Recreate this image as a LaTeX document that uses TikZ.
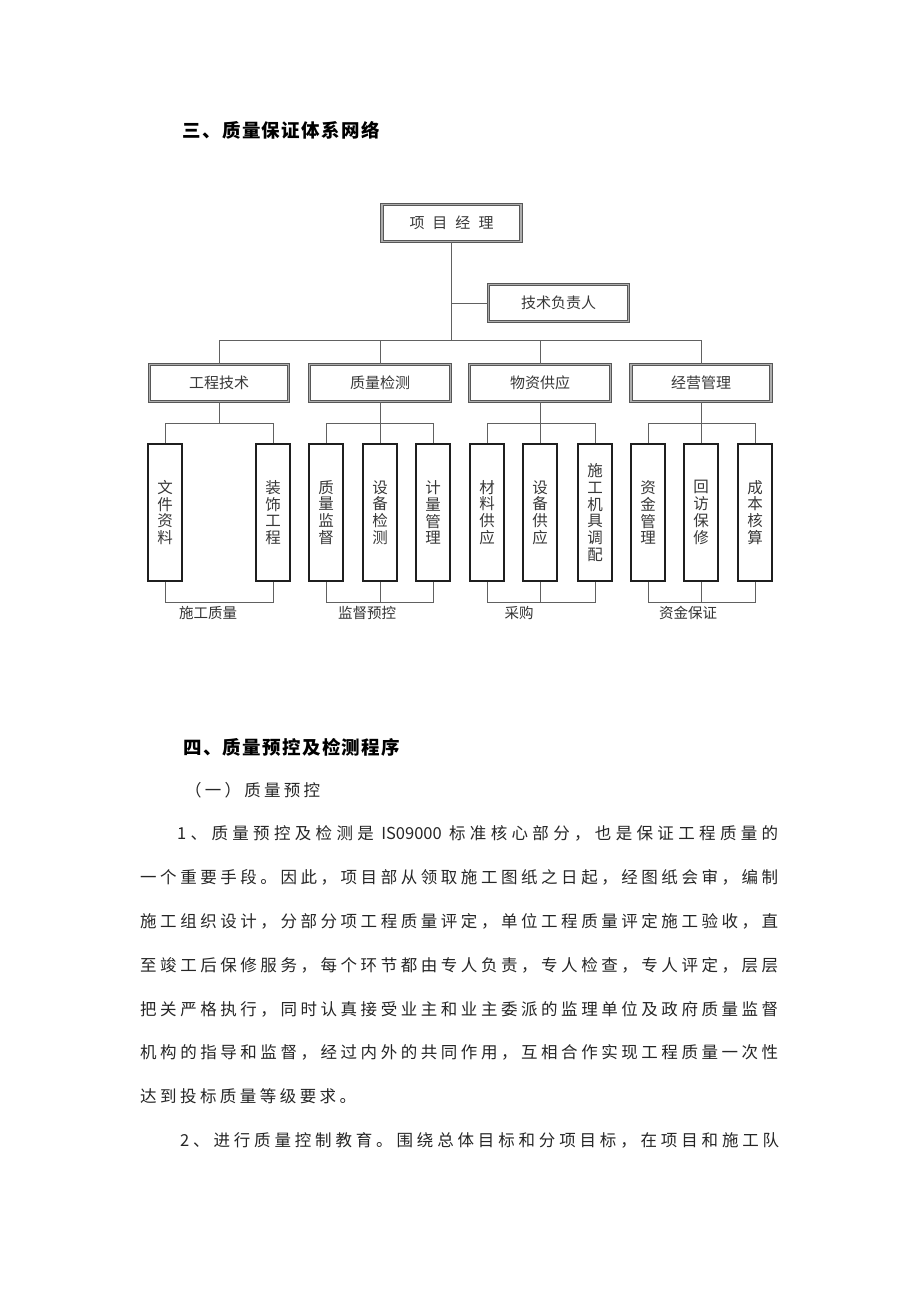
\documentclass[tikz,border=0pt]{standalone}
\usepackage{fontspec}
\setmainfont{Noto Sans CJK SC}
\def\Xspread#1#2{\hbox to #1{\Xspr#2\relax}}
\def\Xspr#1{#1\futurelet\Xnext\Xsprtest}
\def\Xsprtest{\ifx\Xnext\relax\expandafter\Xsprend\else\expandafter\Xsprgo\fi}
\def\Xsprgo{\hskip 0pt plus 1fil\Xspr}
\def\Xsprend\relax{}
\tikzset{
  bigbox/.style={draw=black!66, line width=1pt, double=black!32, double distance=1.3pt,
    fill=white, minimum width=139pt, minimum height=37pt, inner sep=0pt,
    text=black!78, font=\fontsize{15}{15}\selectfont},
  childbox/.style={draw=black!88, line width=2pt, fill=white, minimum width=34pt,
    minimum height=137pt, inner sep=0pt, text=black!78, align=center,
    font=\fontsize{15.5}{16.8}\selectfont},
  conn/.style={draw=black!62, line width=0.9pt},
  lbl/.style={inner sep=0pt, text=black!80, font=\fontsize{14.5}{14.5}\selectfont},
  para/.style={inner sep=0pt, anchor=west, text=black!85, font=\fontsize{16.5}{16.5}\selectfont},
  head/.style={inner sep=0pt, anchor=west, text=black, font=\fontsize{18.5}{18.5}\selectfont\bfseries}
}
\begin{document}
\begin{tikzpicture}[x=1pt,y=-1pt]
\useasboundingbox[fill=white] (0,0) rectangle (920,1301);

% heading
\node[head] (h3) at (182,130) {\Xspread{198pt}{三、质量保证体系网络}};

% top level
\node[bigbox] (pm) at (451.5,223) {\Xspread{84pt}{项目经理}};
\node[bigbox, minimum width=140pt] (tech) at (558.5,303) {技术负责人};

% groups
\node[bigbox] (g1) at (219,383) {工程技术};
\node[bigbox, minimum width=141pt] (g2) at (380,383) {质量检测};
\node[bigbox, minimum width=141pt] (g3) at (540,383) {物资供应};
\node[bigbox, minimum width=140pt] (g4) at (701,383) {经营管理};

% children
\node[childbox] (c11) at (165,512.5) {文\\件\\资\\料};
\node[childbox] (c12) at (273,512.5) {装\\饰\\工\\程};
\node[childbox] (c21) at (326,512.5) {质\\量\\监\\督};
\node[childbox] (c22) at (380,512.5) {设\\备\\检\\测};
\node[childbox] (c23) at (433,512.5) {计\\量\\管\\理};
\node[childbox] (c31) at (487,512.5) {材\\料\\供\\应};
\node[childbox] (c32) at (540,512.5) {设\\备\\供\\应};
\node[childbox] (c33) at (595,512.5) {施\\工\\机\\具\\调\\配};
\node[childbox] (c41) at (648,512.5) {资\\金\\管\\理};
\node[childbox] (c42) at (701,512.5) {回\\访\\保\\修};
\node[childbox] (c43) at (755,512.5) {成\\本\\核\\算};

% junction levels
\coordinate (j0) at (451.5,340);
\coordinate (t1) at (0,423);
\coordinate (b1) at (0,602);

% connectors: top
\draw[conn] (pm.south) -- (j0);
\draw[conn] (tech.west) -- (tech.west -| pm.south);
\draw[conn] (g1.north) -- (g1.north |- j0) -- (g4.north |- j0) -- (g4.north);
\draw[conn] (g2.north) -- (g2.north |- j0);
\draw[conn] (g3.north) -- (g3.north |- j0);

% group 1
\draw[conn] (g1.south) -- (g1.south |- t1);
\draw[conn] (c11.north) -- (c11.north |- t1) -- (c12.north |- t1) -- (c12.north);
\draw[conn] (c11.south) -- (c11.south |- b1) -- (c12.south |- b1) -- (c12.south);
% group 2
\draw[conn] (g2.south) -- (c22.north);
\draw[conn] (c21.north) -- (c21.north |- t1) -- (c23.north |- t1) -- (c23.north);
\draw[conn] (c21.south) -- (c21.south |- b1) -- (c23.south |- b1) -- (c23.south);
\draw[conn] (c22.south) -- (c22.south |- b1);
% group 3
\draw[conn] (g3.south) -- (c32.north);
\draw[conn] (c31.north) -- (c31.north |- t1) -- (c33.north |- t1) -- (c33.north);
\draw[conn] (c31.south) -- (c31.south |- b1) -- (c33.south |- b1) -- (c33.south);
\draw[conn] (c32.south) -- (c32.south |- b1);
% group 4
\draw[conn] (g4.south) -- (c42.north);
\draw[conn] (c41.north) -- (c41.north |- t1) -- (c43.north |- t1) -- (c43.north);
\draw[conn] (c41.south) -- (c41.south |- b1) -- (c43.south |- b1) -- (c43.south);
\draw[conn] (c42.south) -- (c42.south |- b1);

% bottom labels
\node[lbl] (lab1) at (208,613) {施工质量};
\node[lbl] (lab2) at (367,613) {监督预控};
\node[lbl] (lab3) at (519,613) {采购};
\node[lbl] (lab4) at (688,613) {资金保证};

% section 4
\node[head] (h4) at (183,747) {\Xspread{217pt}{四、质量预控及检测程序}};
\node[para] (s1) at (185,790) {\Xspread{135pt}{（一）质量预控}};

\node[para] (p1) at (177,833) {\Xspread{601pt}{1、质量预控及检测是{\hspace{3pt}IS09000\hspace{3pt}}标准核心部分，也是保证工程质量的}};
\node[para] (p2) at (140,877) {\Xspread{638pt}{一个重要手段。因此，项目部从领取施工图纸之日起，经图纸会审，编制}};
\node[para] (p3) at (140,921) {\Xspread{638pt}{施工组织设计，分部分项工程质量评定，单位工程质量评定施工验收，直}};
\node[para] (p4) at (140,965) {\Xspread{638pt}{至竣工后保修服务，每个环节都由专人负责，专人检查，专人评定，层层}};
\node[para] (p5) at (140,1009) {\Xspread{638pt}{把关严格执行，同时认真接受业主和业主委派的监理单位及政府质量监督}};
\node[para] (p6) at (140,1052) {\Xspread{638pt}{机构的指导和监督，经过内外的共同作用，互相合作实现工程质量一次性}};
\node[para] (p7) at (140,1096) {\Xspread{216pt}{达到投标质量等级要求。}};
\node[para] (p8) at (180,1140) {\Xspread{599pt}{2、进行质量控制教育。围绕总体目标和分项目标，在项目和施工队}};
\end{tikzpicture}
\end{document}
